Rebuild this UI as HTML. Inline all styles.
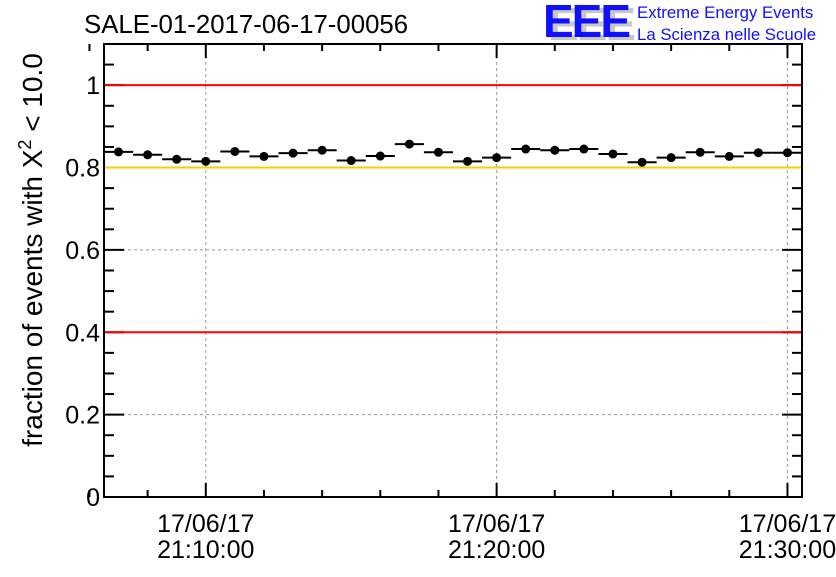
<!DOCTYPE html>
<html><head><meta charset="utf-8"><style>
body{margin:0;background:#fff;}
svg text{font-family:"Liberation Sans",sans-serif;}
</style></head><body>
<svg id="chart" width="836" height="572" xmlns="http://www.w3.org/2000/svg">
<text x="84" y="33" font-size="25.8" fill="#000">SALE-01-2017-06-17-00056</text>
<g>
<text x="548" y="40" font-size="46" font-weight="bold" fill="#c8c8c8" letter-spacing="-2">EEE</text>
<text x="543" y="37" font-size="46" font-weight="bold" fill="#1010ff" letter-spacing="-2">EEE</text>
<text x="637" y="18" font-size="16.8" fill="#1010ff">Extreme Energy Events</text>
<text x="637" y="40" font-size="16.8" fill="#1010ff">La Scienza nelle Scuole</text>
</g>
<g id="grid"></g>
<g id="axes"></g>
<g id="refs"></g>
<g id="marks"></g>
<text transform="translate(42,250) rotate(-90)" text-anchor="middle" font-size="28" fill="#000">fraction of events with X<tspan dy="-11" font-size="18">2</tspan><tspan dy="11"> &lt; 10.0</tspan></text>
</svg>
<script>
const minutes=[0,1,2,3,4,5,6,7,8,9,10,11,12,13,14,15,16,17,18,19,20,21,22,23]; // minutes after 21:07
const fractions=[0.838,0.831,0.820,0.815,0.839,0.827,0.835,0.842,0.817,0.828,0.857,0.837,0.815,0.824,0.845,0.842,0.845,0.833,0.813,0.824,0.837,0.827,0.836,0.836];
const yTicks=[0,0.2,0.4,0.6,0.8,1];
const yTickLabels=["0","0.2","0.4","0.6","0.8","1"];
const xTicks=[3,13,23]; // 21:10, 21:20, 21:30
const xTickLabels=[["17/06/17","21:10:00"],["17/06/17","21:20:00"],["17/06/17","21:30:00"]];
const refLines=[{v:1,c:"#ff0000"},{v:0.8,c:"#ffcc00"},{v:0.4,c:"#ff0000"}];

const L=104,R=802,T=44,B=497;
const xMin=-0.5,xMax=23.5,yMin=0,yMax=1.1;
const xs=m=>L+(m-xMin)/(xMax-xMin)*(R-L);
const ys=v=>B-(v-yMin)/(yMax-yMin)*(B-T);
const NS="http://www.w3.org/2000/svg";
function mk(tag,attrs,parent){const e=document.createElementNS(NS,tag);for(const k in attrs)e.setAttribute(k,attrs[k]);document.getElementById(parent).appendChild(e);return e;}

yTicks.forEach((v,i)=>{if(v===0)return;
 const g=mk('line',{x1:L,x2:R,y1:ys(v),y2:ys(v),stroke:'#999','stroke-dasharray':'3,3','stroke-width':1},'grid');
 
 
});
xTicks.forEach(m=>{
 const g=mk('line',{x1:xs(m),x2:xs(m),y1:T,y2:B,stroke:'#999','stroke-dasharray':'3,3','stroke-width':1},'grid');
 
 
});
refLines.forEach(r=>{
 const l=mk('line',{x1:L+1,x2:R-1,y1:ys(r.v),y2:ys(r.v),stroke:r.c,'stroke-width':2},'refs');
 
 
});
const fr=mk('rect',{x:L,y:T,width:R-L,height:B-T,fill:'none',stroke:'#000','stroke-width':2},'axes');


for(let k=0;k<=22;k++){const v=k*0.05;const major=(k%4===0);const len=major?20:10;
 const t1=mk('line',{x1:L,x2:L+len,y1:ys(v),y2:ys(v),stroke:'#000','stroke-width':2},'axes');
 
 
 const t2=mk('line',{x1:R,x2:R-len,y1:ys(v),y2:ys(v),stroke:'#000','stroke-width':2},'axes');
 
 
}
yTicks.forEach((v,i)=>{
 const t=mk('text',{x:L-4,y:ys(v)+9,'text-anchor':'end','font-size':25,fill:'#000'},'axes');
 t.textContent=yTickLabels[i];
 
 
});
for(let m=-1;m<=23;m+=2){const major=xTicks.includes(m);const len=major?14:7;
 const t1=mk('line',{x1:xs(m),x2:xs(m),y1:B,y2:B-len,stroke:'#000','stroke-width':2},'axes');
 
 
 const t2=mk('line',{x1:xs(m),x2:xs(m),y1:T,y2:T+len,stroke:'#000','stroke-width':2},'axes');
 
 
}
xTicks.forEach((m,i)=>{
 const t=mk('text',{x:xs(m),y:532,'text-anchor':'middle','font-size':25,fill:'#000'},'axes');
 t.textContent=xTickLabels[i][0];
 
 
 const t2=mk('text',{x:xs(m),y:558,'text-anchor':'middle','font-size':25,fill:'#000'},'axes');
 t2.textContent=xTickLabels[i][1];
 
 
});
minutes.forEach((m,i)=>{
 const y=ys(fractions[i]);
 const b=mk('line',{x1:Math.max(L,xs(m-0.5)),x2:Math.min(R,xs(m+0.5)),y1:y,y2:y,stroke:'#000','stroke-width':2},'marks');
 
 
 const c=mk('circle',{cx:xs(m),cy:y,r:4.5,fill:'#000'},'marks');
 
 
});
</script>
</body></html>
